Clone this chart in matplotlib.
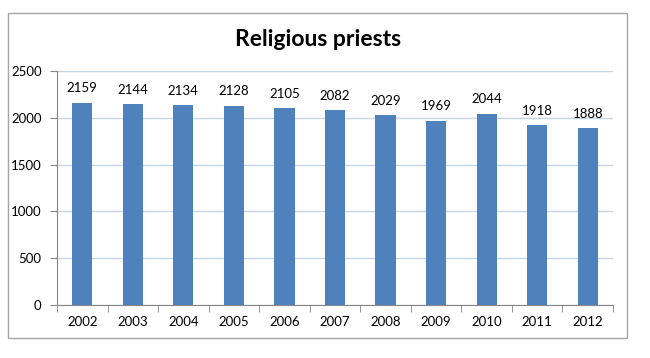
import matplotlib.pyplot as plt
from matplotlib.patches import Rectangle

years = ["2002", "2003", "2004", "2005", "2006", "2007", "2008", "2009", "2010", "2011", "2012"]
priests = [2159, 2144, 2134, 2128, 2105, 2082, 2029, 1969, 2044, 1918, 1888]

plt.rcParams["font.family"] = ["Lato", "DejaVu Sans"]

fig = plt.figure(figsize=(6.5, 3.58), dpi=100)
ax = fig.add_axes([57 / 650, 1 - 305 / 358, (613 - 57) / 650, (305 - 71) / 358])

# chart border
fig.patches.append(Rectangle((8 / 650, 1 - 338 / 358), 619 / 650, 325 / 358,
                             transform=fig.transFigure, fill=False,
                             edgecolor="#a6a6a6", linewidth=1.0))

x = range(len(years))
ax.bar(x, priests, width=0.4, color="#4f81bd", zorder=3)
for i, v in zip(x, priests):
    ax.text(i, v + 90, str(v), ha="center", va="bottom", fontsize=9.5)

ax.set_xlim(-0.5, len(years) - 0.5)
ax.set_ylim(0, 2500)
ax.set_yticks(range(0, 2501, 500))
ax.set_xticks(list(x))
ax.set_xticklabels(years)
ax.set_xticks([i + 0.5 for i in range(-1, len(years))], minor=True)
ax.tick_params(axis="x", which="major", length=0, labelsize=9.5, pad=8)
ax.tick_params(axis="x", which="minor", length=5, color="#868686", direction="out")
ax.tick_params(axis="y", length=5, color="#868686", labelsize=9.5, pad=6)

ax.grid(axis="y", color="#c5d3e8", linewidth=1, zorder=0)
for s in ["top", "right"]:
    ax.spines[s].set_visible(False)
ax.spines["left"].set_color("#868686")
ax.spines["bottom"].set_color("#868686")

fig.text(318 / 650, 1 - 40 / 358, "Religious priests", ha="center", va="center",
         fontsize=16.5, fontweight="bold")

fig.savefig("out.png", dpi=100)
